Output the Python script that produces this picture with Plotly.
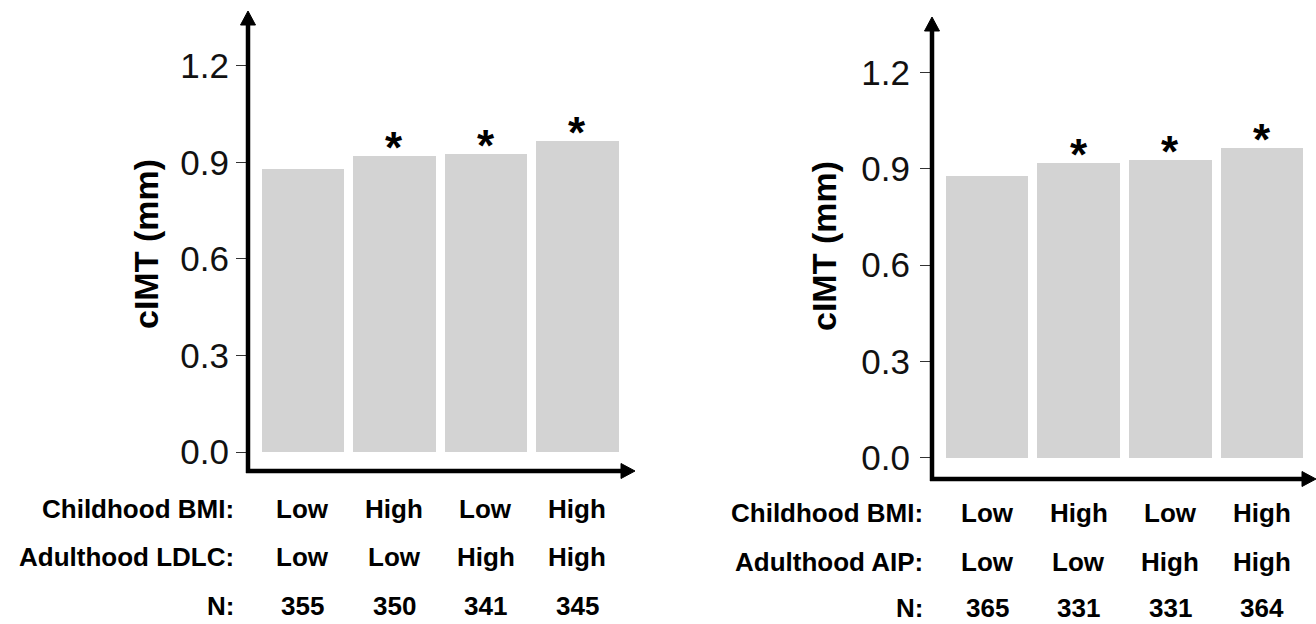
import plotly.graph_objects as go

W, H = 1316, 624

# ---- data ----
categories = [1, 2, 3, 4]
childhood_bmi = ["Low", "High", "Low", "High"]
adult_ldlc = ["Low", "Low", "High", "High"]
adult_aip = ["Low", "Low", "High", "High"]
n_ldlc = ["355", "350", "341", "345"]
n_aip = ["365", "331", "331", "364"]
cimt_ldlc = [0.879, 0.920, 0.925, 0.966]
cimt_aip = [0.878, 0.918, 0.927, 0.966]
signif_ldlc = ["", "*", "*", "*"]
signif_aip = ["", "*", "*", "*"]
yticks = [0.0, 0.3, 0.6, 0.9, 1.2]
ytick_text = ["0.0", "0.3", "0.6", "0.9", "1.2"]

FONT = "Liberation Sans, Arial, sans-serif"
BAR = "#d3d3d3"

fig = go.Figure()
fig.add_trace(go.Bar(x=categories, y=cimt_ldlc, width=0.9, marker=dict(color=BAR, line=dict(width=0)),
                     xaxis="x", yaxis="y", hoverinfo="skip", showlegend=False))
fig.add_trace(go.Bar(x=categories, y=cimt_aip, width=0.9, marker=dict(color=BAR, line=dict(width=0)),
                     xaxis="x2", yaxis="y2", hoverinfo="skip", showlegend=False))

def px_x(p):
    return p / W

def px_y(p):
    return 1 - p / H

# panel geometry (pixels)
L = dict(x0=248, x1=635, yb=471, yt=11, unit_x=91.5, zero=452, unit_y=321.7, standoff=0)
R = dict(x0=932, x1=1316, yb=479, yt=17, unit_x=91.67, zero=457.7, unit_y=320.8, standoff=3)

def axes(p):
    xr = [0.4, 0.4 + (p["x1"] - p["x0"]) / p["unit_x"]]
    yr = [-(p["yb"] - p["zero"]) / p["unit_y"], (p["zero"] - p["yt"]) / p["unit_y"]]
    xa = dict(domain=[px_x(p["x0"]), px_x(p["x1"])], range=xr, showgrid=False, zeroline=False,
              showticklabels=False, ticks="", showline=False, fixedrange=True)
    ya = dict(domain=[px_y(p["yb"]), px_y(p["yt"])], range=yr, showgrid=False, zeroline=False,
              tickvals=yticks, ticktext=ytick_text, ticks="outside", ticklen=11, tickwidth=1.3,
              tickcolor="#333333", tickfont=dict(family=FONT, size=35, color="#111111"),
              showline=False, fixedrange=True, ticklabelstandoff=p["standoff"])
    return xa, ya

xa1, ya1 = axes(L)
xa2, ya2 = axes(R)
xa1["anchor"] = "y"; ya1["anchor"] = "x"
xa2["anchor"] = "y2"; ya2["anchor"] = "x2"

shapes = []
annotations = []

def panel_decor(p, xref, yref, row2_name, row2_vals, nvals, vals, sig, label_right, rows_y, title_x, title_y):
    # axis lines
    shapes.append(dict(type="line", xref="paper", yref="paper",
                       x0=px_x(p["x0"]), x1=px_x(p["x0"]), y0=px_y(p["yb"] + 2), y1=px_y(p["yt"] + 8),
                       line=dict(color="black", width=4.5)))
    shapes.append(dict(type="line", xref="paper", yref="paper",
                       x0=px_x(p["x0"] - 2), x1=px_x(p["x1"] - 8), y0=px_y(p["yb"]), y1=px_y(p["yb"]),
                       line=dict(color="black", width=4.5)))
    # arrow heads
    shapes.append(dict(type="path", xref="paper", yref="paper", xsizemode="pixel", ysizemode="pixel",
                       xanchor=px_x(p["x0"]), yanchor=px_y(p["yt"]),
                       path="M -7.5,-14 L 7.5,-14 L 0,0 Z", fillcolor="black", line=dict(color="black", width=1)))
    shapes.append(dict(type="path", xref="paper", yref="paper", xsizemode="pixel", ysizemode="pixel",
                       xanchor=px_x(p["x1"]), yanchor=px_y(p["yb"]),
                       path="M -14,7.5 L -14,-7.5 L 0,0 Z", fillcolor="black", line=dict(color="black", width=1)))
    # asterisks
    for c, v, s in zip(categories, vals, sig):
        if s:
            annotations.append(dict(x=c, y=v, xref=xref, yref=yref, text="<b>" + s + "</b>", showarrow=False,
                                    yanchor="bottom", yshift=-18,
                                    font=dict(family=FONT, size=44, color="black")))
    # y title
    annotations.append(dict(x=px_x(title_x), y=px_y(title_y), xref="paper", yref="paper", text="<b>cIMT (mm)</b>",
                            textangle=-90, showarrow=False, xanchor="center", yanchor="middle",
                            font=dict(family=FONT, size=34, color="black")))
    # category table
    row_names = ["Childhood BMI:", row2_name, "N:"]
    row_vals = [childhood_bmi, row2_vals, nvals]
    for name, vals_r, yy in zip(row_names, row_vals, rows_y):
        annotations.append(dict(x=px_x(label_right), y=px_y(yy), xref="paper", yref="paper", text="<b>" + name + "</b>",
                                showarrow=False, xanchor="right", yanchor="middle",
                                font=dict(family=FONT, size=26, color="black")))
        for c, t in zip(categories, vals_r):
            annotations.append(dict(x=c, y=px_y(yy), xref=xref, yref="paper", text="<b>" + t + "</b>",
                                    showarrow=False, xanchor="center", yanchor="middle",
                                    font=dict(family=FONT, size=26, color="black")))

panel_decor(L, "x", "y", "Adulthood LDLC:", adult_ldlc, n_ldlc, cimt_ldlc, signif_ldlc, 236, [509, 557, 606], 146, 244)
panel_decor(R, "x2", "y2", "Adulthood AIP:", adult_aip, n_aip, cimt_aip, signif_aip, 925, [513, 562, 608], 824, 246)

fig.update_layout(width=W, height=H, margin=dict(l=0, r=0, t=0, b=0), paper_bgcolor="white", plot_bgcolor="white",
                  xaxis=xa1, yaxis=ya1, xaxis2=xa2, yaxis2=ya2, shapes=shapes, annotations=annotations,
                  bargap=0, showlegend=False)

fig.write_html("out.html", config={"displayModeBar": False},
               post_script="document.body.style.margin='0';document.body.style.padding='0';"
                           "document.body.style.overflow='hidden';")
